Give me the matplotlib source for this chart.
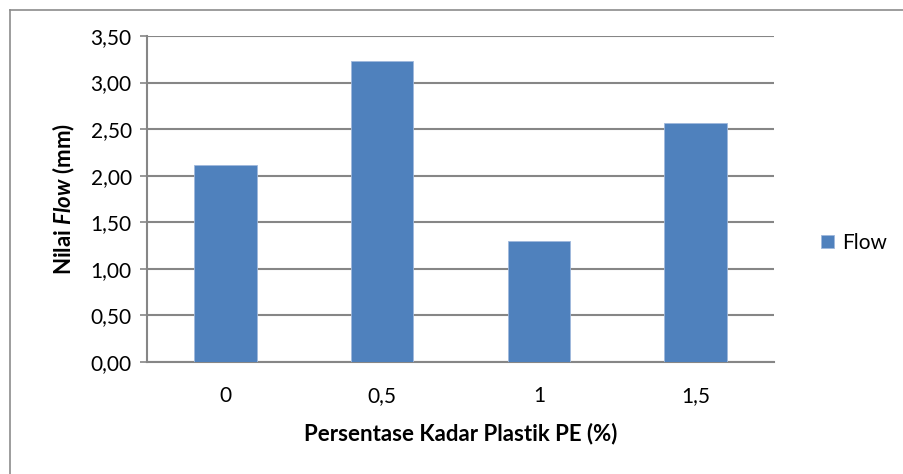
import matplotlib.pyplot as plt
from matplotlib.lines import Line2D

categories = ['0', '0,5', '1', '1,5']
flow = [2.115, 3.232, 1.30, 2.563]
yticks = [0.0, 0.5, 1.0, 1.5, 2.0, 2.5, 3.0, 3.5]
ytick_labels = ['0,00', '0,50', '1,00', '1,50', '2,00', '2,50', '3,00', '3,50']

plt.rcParams['font.family'] = ['Lato', 'DejaVu Sans']
plt.rcParams['mathtext.fontset'] = 'custom'
plt.rcParams['mathtext.rm'] = 'Lato:bold'
plt.rcParams['mathtext.bfit'] = 'Lato:bold:italic'

fs = 15

fig = plt.figure(figsize=(9.04, 4.74), dpi=100)
ax = fig.add_axes([147 / 904, 1 - 362 / 474, (774 - 147) / 904, (362 - 36) / 474])

grid_c = '#868686'
x = range(len(categories))
ax.bar(x, flow, width=0.4, color='#4f81bd', edgecolor='#9fb8dc', linewidth=0.6,
       label='Flow', zorder=3)

ax.set_xlim(-0.5, len(categories) - 0.5)
ax.set_ylim(0, 3.5)
ax.set_yticks(yticks)
ax.set_yticklabels(ytick_labels)
ax.set_xticks(list(x))
ax.set_xticklabels(categories)

ax.yaxis.grid(True, color=grid_c, linewidth=1.5, zorder=0)
ax.set_axisbelow(True)
for s in ['top', 'right']:
    ax.spines[s].set_visible(False)
for s in ['left', 'bottom']:
    ax.spines[s].set_color(grid_c)
    ax.spines[s].set_linewidth(1.5)

ax.tick_params(axis='y', length=5, color=grid_c, width=1.2, labelsize=fs, pad=6)
ax.tick_params(axis='x', length=0, labelsize=fs, pad=17)

ax.set_xlabel('Persentase Kadar Plastik PE (%)', fontsize=16, fontweight='bold', labelpad=12)
ax.set_ylabel(r'Nilai $\bfit{Flow}$ (mm)', fontsize=16, fontweight='bold', labelpad=10)

ax.legend(loc='center left', bbox_to_anchor=(811 / 904, 1 - 243 / 474),
          bbox_transform=fig.transFigure, frameon=False, fontsize=fs,
          handlelength=0.6, handleheight=0.6, handletextpad=0.4, borderpad=0)

# outer chart border
fig.add_artist(Line2D([10 / 904, 10 / 904], [0, 1 - 10 / 474], color='#8c8c8c',
                      linewidth=1.2, transform=fig.transFigure))
fig.add_artist(Line2D([10 / 904, 1], [1 - 10 / 474, 1 - 10 / 474], color='#8c8c8c',
                      linewidth=1.2, transform=fig.transFigure))

fig.savefig('out.png', dpi=100)
